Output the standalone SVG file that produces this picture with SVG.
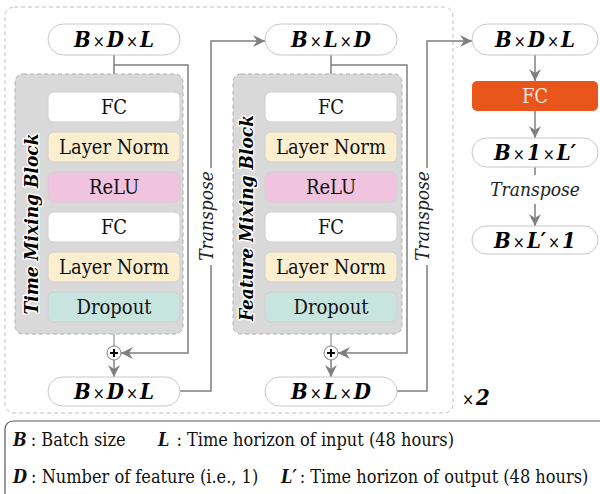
<svg xmlns="http://www.w3.org/2000/svg" width="600" height="494" viewBox="0 0 600 494">
  <style>
    text { font-family: "DejaVu Serif Condensed", "DejaVu Serif", serif; font-stretch: condensed; }
    .frame { fill: none; stroke: #bfbfbf; stroke-width: 1; stroke-dasharray: 4 3; }
    .block { fill: #d9d9d9; stroke: #b0b0b0; stroke-width: 1; stroke-dasharray: 4 3; }
    .pill { fill: #ffffff; stroke: #c8c8c8; stroke-width: 1; }
    .box { stroke: #d0d0d0; stroke-width: 1; }
    .fc { fill: #ffffff; }
    .ln { fill: #fbefd0; }
    .relu { fill: #f0c3df; }
    .drop { fill: #c7e4de; }
    .out { fill: #e9561b; stroke: none; }
    .wire { fill: none; stroke: #7f7f7f; stroke-width: 1.5; }
    .thin { fill: none; stroke: #808080; stroke-width: 1; }
    .lbl { font-size: 20px; fill: #111; text-anchor: middle; }
    .dim { font-size: 22px; fill: #000; text-anchor: middle; }
    .v { font-weight: bold; font-style: italic; }
    .x { font-weight: normal; font-style: normal; font-size: 16px; }
    .title { font-size: 19px; font-weight: bold; font-style: italic; fill: #000; stroke: #ffffff; stroke-width: 3; paint-order: stroke; stroke-linejoin: round; text-anchor: middle; }
    .tr { font-size: 19px; font-style: italic; fill: #222; text-anchor: middle; }
    .leg { font-size: 18px; fill: #111; }
    .plus { fill: #ffffff; stroke: #7f7f7f; stroke-width: 1; }
  </style>
  <defs>
    <marker id="arr" viewBox="0 0 12 12" refX="12" refY="6" markerWidth="12" markerHeight="12" markerUnits="userSpaceOnUse" orient="auto">
      <path d="M0,0 L12,6 L0,12 L4,6 z" fill="#7f7f7f"/>
    </marker>
  </defs>

  <!-- repeated mixer stack (x2) -->
  <rect class="frame" x="5" y="7" width="448" height="406" rx="9"/>
  <text x="462" y="405" class="dim" style="text-anchor:start"><tspan class="x">×</tspan><tspan class="v" dx="2">2</tspan></text>

  <!-- connectors -->
  <g id="connectors">
    <line class="wire" x1="114" y1="55" x2="114" y2="92" marker-end="url(#arr)"/>
    <polyline class="wire" points="114,65 188,65 188,353 121,353" marker-end="url(#arr)"/>
    <line class="thin" x1="114" y1="122" x2="114" y2="346"/>
    <line class="wire" x1="114" y1="360" x2="114" y2="377" marker-end="url(#arr)"/>
    <polyline class="wire" points="180,391 211,391 211,265"/>
    <polyline class="wire" points="211,168 211,41 265,41" marker-end="url(#arr)"/>
    <line class="wire" x1="331" y1="55" x2="331" y2="92" marker-end="url(#arr)"/>
    <polyline class="wire" points="331,65 407,65 407,353 338,353" marker-end="url(#arr)"/>
    <line class="thin" x1="331" y1="122" x2="331" y2="346"/>
    <line class="wire" x1="331" y1="360" x2="331" y2="377" marker-end="url(#arr)"/>
    <polyline class="wire" points="397,391 427,391 427,265"/>
    <polyline class="wire" points="427,168 427,41 472,41" marker-end="url(#arr)"/>
    <line class="wire" x1="535" y1="55" x2="535" y2="81" marker-end="url(#arr)"/>
    <line class="wire" x1="535" y1="111" x2="535" y2="138" marker-end="url(#arr)"/>
    <line class="wire" x1="535" y1="167" x2="535" y2="175"/>
    <line class="wire" x1="535" y1="204" x2="535" y2="226" marker-end="url(#arr)"/>
  </g>

  <!-- transpose labels -->
  <text class="tr" transform="translate(213,216) rotate(-90)">Transpose</text>
  <text class="tr" transform="translate(429,216) rotate(-90)">Transpose</text>
  <text class="tr" x="535" y="196">Transpose</text>

  <!-- time mixing block -->
  <g id="time-mixing">
    <rect class="block" x="15" y="74" width="168" height="260" rx="8"/>
    <text class="title" transform="translate(38,224) rotate(-90)">Time Mixing Block</text>
    <rect class="box fc" x="48" y="92" width="132" height="30" rx="6"/>
    <text class="lbl" x="114" y="114">FC</text>
    <rect class="box ln" x="48" y="132" width="132" height="30" rx="6"/>
    <text class="lbl" x="114" y="154">Layer Norm</text>
    <rect class="box relu" x="48" y="172" width="132" height="30" rx="6"/>
    <text class="lbl" x="114" y="194">ReLU</text>
    <rect class="box fc" x="48" y="212" width="132" height="30" rx="6"/>
    <text class="lbl" x="114" y="234">FC</text>
    <rect class="box ln" x="48" y="252" width="132" height="30" rx="6"/>
    <text class="lbl" x="114" y="274">Layer Norm</text>
    <rect class="box drop" x="48" y="292" width="132" height="30" rx="6"/>
    <text class="lbl" x="114" y="314">Dropout</text>
  </g>

  <!-- feature mixing block -->
  <g id="feature-mixing">
    <rect class="block" x="233" y="74" width="169" height="260" rx="8"/>
    <text class="title" transform="translate(253,218) rotate(-90)">Feature Mixing Block</text>
    <rect class="box fc" x="265" y="92" width="132" height="30" rx="6"/>
    <text class="lbl" x="331" y="114">FC</text>
    <rect class="box ln" x="265" y="132" width="132" height="30" rx="6"/>
    <text class="lbl" x="331" y="154">Layer Norm</text>
    <rect class="box relu" x="265" y="172" width="132" height="30" rx="6"/>
    <text class="lbl" x="331" y="194">ReLU</text>
    <rect class="box fc" x="265" y="212" width="132" height="30" rx="6"/>
    <text class="lbl" x="331" y="234">FC</text>
    <rect class="box ln" x="265" y="252" width="132" height="30" rx="6"/>
    <text class="lbl" x="331" y="274">Layer Norm</text>
    <rect class="box drop" x="265" y="292" width="132" height="30" rx="6"/>
    <text class="lbl" x="331" y="314">Dropout</text>
  </g>

  <!-- residual adders -->
  <g id="add-time">
    <circle class="plus" cx="114" cy="353" r="7"/>
    <path d="M110,353 H118 M114,349 V357" stroke="#000" stroke-width="2"/>
  </g>
  <g id="add-feature">
    <circle class="plus" cx="331" cy="353" r="7"/>
    <path d="M327,353 H335 M331,349 V357" stroke="#000" stroke-width="2"/>
  </g>

  <!-- tensor shapes -->
  <g id="in-time">
    <rect class="pill" x="48" y="24" width="132" height="31" rx="15.5"/>
    <text class="dim" x="114" y="47"><tspan class="v">B</tspan><tspan class="x" dx="2">×</tspan><tspan class="v" dx="2">D</tspan><tspan class="x" dx="2">×</tspan><tspan class="v" dx="2">L</tspan></text>
  </g>
  <g id="out-time">
    <rect class="pill" x="48" y="377" width="132" height="29" rx="14.5"/>
    <text class="dim" x="114" y="399"><tspan class="v">B</tspan><tspan class="x" dx="2">×</tspan><tspan class="v" dx="2">D</tspan><tspan class="x" dx="2">×</tspan><tspan class="v" dx="2">L</tspan></text>
  </g>
  <g id="in-feature">
    <rect class="pill" x="265" y="24" width="132" height="31" rx="15.5"/>
    <text class="dim" x="331" y="47"><tspan class="v">B</tspan><tspan class="x" dx="2">×</tspan><tspan class="v" dx="2">L</tspan><tspan class="x" dx="2">×</tspan><tspan class="v" dx="2">D</tspan></text>
  </g>
  <g id="out-feature">
    <rect class="pill" x="265" y="377" width="132" height="29" rx="14.5"/>
    <text class="dim" x="331" y="399"><tspan class="v">B</tspan><tspan class="x" dx="2">×</tspan><tspan class="v" dx="2">L</tspan><tspan class="x" dx="2">×</tspan><tspan class="v" dx="2">D</tspan></text>
  </g>

  <!-- output head -->
  <g id="in-head">
    <rect class="pill" x="472" y="24" width="126" height="31" rx="15.5"/>
    <text class="dim" x="535" y="47"><tspan class="v">B</tspan><tspan class="x" dx="2">×</tspan><tspan class="v" dx="2">D</tspan><tspan class="x" dx="2">×</tspan><tspan class="v" dx="2">L</tspan></text>
  </g>
  <g id="head-fc">
    <rect class="out" x="472" y="81" width="126" height="30" rx="5"/>
    <text class="lbl" x="535" y="103" style="fill:#fde9df">FC</text>
  </g>
  <g id="head-out">
    <rect class="pill" x="472" y="138" width="126" height="29" rx="14.5"/>
    <text class="dim" x="535" y="160"><tspan class="v">B</tspan><tspan class="x" dx="2">×</tspan><tspan class="v" dx="2">1</tspan><tspan class="x" dx="2">×</tspan><tspan class="v" dx="2">L′</tspan></text>
  </g>
  <g id="head-final">
    <rect class="pill" x="472" y="226" width="126" height="28" rx="14"/>
    <text class="dim" x="535" y="248"><tspan class="v">B</tspan><tspan class="x" dx="2">×</tspan><tspan class="v" dx="2">L′</tspan><tspan class="x" dx="2">×</tspan><tspan class="v" dx="2">1</tspan></text>
  </g>

  <!-- legend -->
  <g id="legend">
    <rect x="5" y="421" width="620" height="100" rx="8" fill="none" stroke="#595959" stroke-width="1.2"/>
    <text class="leg" x="13" y="446"><tspan class="v">B</tspan><tspan dx="4">: Batch size</tspan></text>
    <text class="leg" x="158" y="446"><tspan class="v">L</tspan><tspan dx="7">: Time horizon of input (48 hours)</tspan></text>
    <text class="leg" x="13" y="483"><tspan class="v">D</tspan><tspan dx="4">: Number of feature (i.e., 1)</tspan></text>
    <text class="leg" x="281" y="483"><tspan class="v">L′</tspan><tspan dx="3">: Time horizon of output (48 hours)</tspan></text>
  </g>
</svg>
